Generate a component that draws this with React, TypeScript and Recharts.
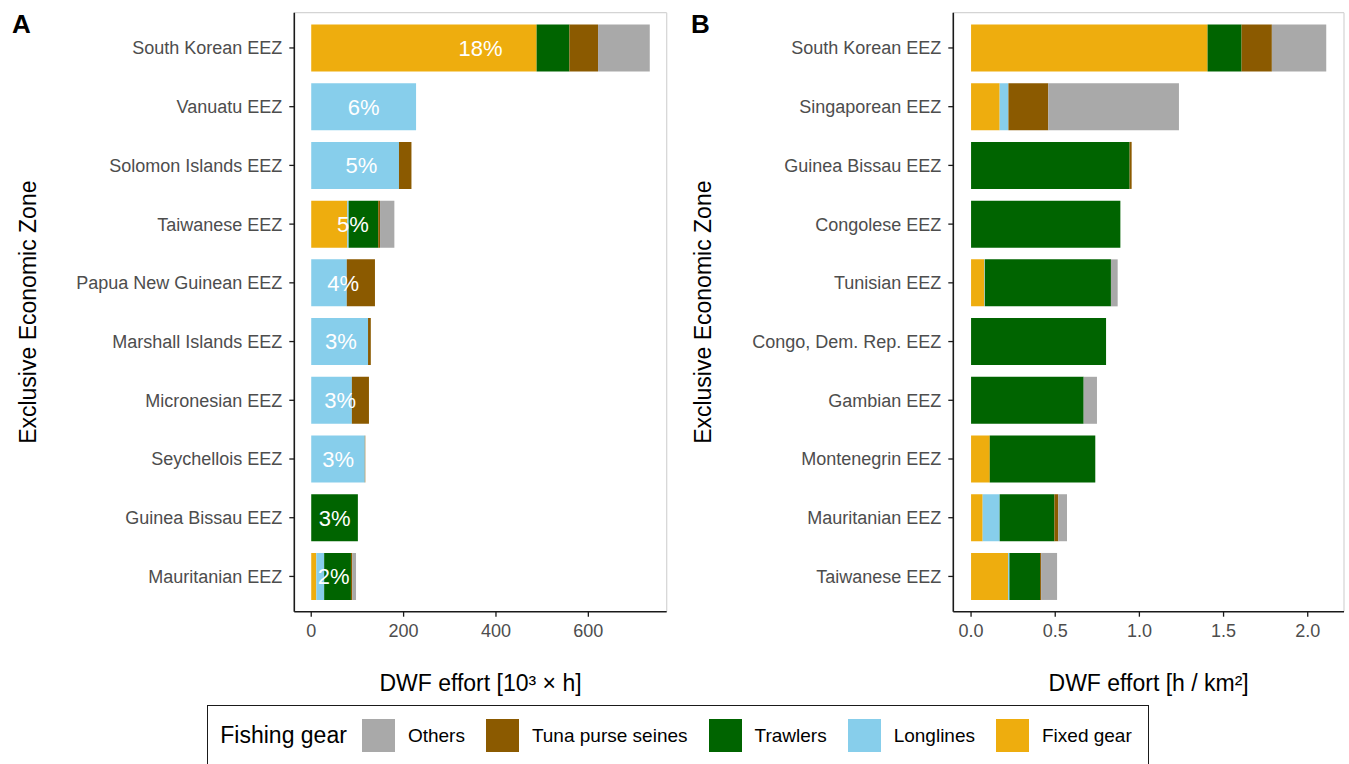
import React from 'react';
import { BarChart, Bar, XAxis, YAxis, LabelList, Label, CartesianGrid } from 'recharts';

// ---- Series definitions (stack order left to right) ----
const gearKeys = ['fixed', 'longlines', 'trawlers', 'tuna', 'others'];
const gearNames = ['Fixed gear', 'Longlines', 'Trawlers', 'Tuna purse seines', 'Others'];
const gearColors = ['#EEAD0E', '#87CEEB', '#006400', '#8B5A00', '#A9A9A9'];
const legendOrder = ['others', 'tuna', 'trawlers', 'longlines', 'fixed'];

// ---- Panel A: DWF effort [10^3 x h] ----
const zonesA = [
  'South Korean EEZ', 'Vanuatu EEZ', 'Solomon Islands EEZ', 'Taiwanese EEZ', 'Papua New Guinean EEZ',
  'Marshall Islands EEZ', 'Micronesian EEZ', 'Seychellois EEZ', 'Guinea Bissau EEZ', 'Mauritanian EEZ',
];
const fixedA = [488, 0, 0, 78, 0, 0, 0, 0, 0, 11];
const longlinesA = [0, 227, 190, 3, 77, 123, 88, 116, 0, 17];
const trawlersA = [71, 0, 0, 64, 0, 0, 0, 0, 101, 58];
const tunaA = [62, 0, 27, 4, 61, 6, 37, 1, 0, 3];
const othersA = [112, 0, 0, 31, 0, 0, 0, 0, 0, 8];
const shareA = ['18%', '6%', '5%', '5%', '4%', '3%', '3%', '3%', '3%', '2%'];
const ticksA = [0, 200, 400, 600];

// ---- Panel B: DWF effort [h / km2] ----
const zonesB = [
  'South Korean EEZ', 'Singaporean EEZ', 'Guinea Bissau EEZ', 'Congolese EEZ', 'Tunisian EEZ',
  'Congo, Dem. Rep. EEZ', 'Gambian EEZ', 'Montenegrin EEZ', 'Mauritanian EEZ', 'Taiwanese EEZ',
];
const fixedB = [1.405, 0.17, 0, 0, 0.079, 0, 0, 0.111, 0.069, 0.22];
const longlinesB = [0, 0.052, 0, 0, 0.003, 0, 0, 0, 0.101, 0.008];
const trawlersB = [0.202, 0, 0.942, 0.887, 0.749, 0.802, 0.669, 0.627, 0.325, 0.182];
const tunaB = [0.18, 0.237, 0.012, 0, 0, 0, 0, 0, 0.023, 0.006];
const othersB = [0.323, 0.776, 0, 0, 0.04, 0, 0.079, 0, 0.052, 0.095];
const ticksB = [0, 0.5, 1.0, 1.5, 2.0];

const FONT = '"Liberation Sans", Arial, Helvetica, sans-serif';

function buildRows(zones: string[], cols: number[][], shares?: string[]) {
  return zones.map((zone, i) => {
    const row: any = { zone };
    let total = 0;
    gearKeys.forEach((k, j) => {
      row[k] = cols[j][i];
      total += cols[j][i];
    });
    row.total = total;
    if (shares) row.share = shares[i];
    return row;
  });
}

const dataA = buildRows(zonesA, [fixedA, longlinesA, trawlersA, tunaA, othersA], shareA);
const dataB = buildRows(zonesB, [fixedB, longlinesB, trawlersB, tunaB, othersB]);

function expandDomain(data: any[]): [number, number] {
  const max = Math.max(...data.map((d) => d.total));
  return [-0.05 * max, 1.05 * max];
}

const AXIS_COLOR = '#1a1a1a';
const BORDER_COLOR = '#D4D4D4';
const TICK_STYLE = { fontSize: 18, fill: '#4D4D4D', fontFamily: FONT };
const Y_PAD = { top: 5.9, bottom: 5.9 };

interface PanelProps {
  data: any[];
  width: number;
  yAxisWidth: number;
  marginRight: number;
  ticks: number[];
  xTitle: string;
  titleOffset: number;
  tickFormatter?: (v: number) => string;
  showShares?: boolean;
}

function Panel({ data, width, yAxisWidth, marginRight, ticks, xTitle, titleOffset, tickFormatter, showShares }: PanelProps) {
  const domain = expandDomain(data);
  return (
    <BarChart
      width={width}
      height={700}
      data={data}
      layout="vertical"
      margin={{ top: 12.7, right: marginRight, bottom: 0, left: 0 }}
      barCategoryGap="10%"
      style={{ fontFamily: FONT }}
    >
      <CartesianGrid
        stroke={BORDER_COLOR}
        strokeWidth={1.2}
        horizontalCoordinatesGenerator={({ offset }: any) => [offset.top]}
        verticalCoordinatesGenerator={({ offset }: any) => [offset.left + offset.width]}
      />
      <XAxis
        type="number"
        domain={domain}
        allowDataOverflow
        ticks={ticks}
        tickFormatter={tickFormatter}
        height={88.3}
        tick={TICK_STYLE}
        tickSize={5}
        tickMargin={8}
        tickLine={{ stroke: AXIS_COLOR, strokeWidth: 1.3 }}
        axisLine={{ stroke: AXIS_COLOR, strokeWidth: 1.6 }}
      >
        <Label value={xTitle} position="insideBottom" offset={9.3} style={{ fontSize: 23, fill: '#000', fontFamily: FONT }} />
      </XAxis>
      <YAxis
        type="category"
        dataKey="zone"
        width={yAxisWidth}
        padding={Y_PAD}
        tick={TICK_STYLE}
        tickSize={5}
        tickMargin={7}
        interval={0}
        tickLine={{ stroke: AXIS_COLOR, strokeWidth: 1.3 }}
        axisLine={{ stroke: AXIS_COLOR, strokeWidth: 1.6 }}
      >
        <Label
          value="Exclusive Economic Zone"
          angle={-90}
          position="insideLeft"
          offset={titleOffset}
          style={{ textAnchor: 'middle', fontSize: 23, fill: '#000', fontFamily: FONT }}
        />
      </YAxis>
      <YAxis
        yAxisId="labels"
        orientation="right"
        type="category"
        dataKey="zone"
        width={0}
        padding={Y_PAD}
        tick={false}
        tickLine={false}
        axisLine={false}
      />
      {gearKeys.map((k, j) => (
        <Bar key={k} dataKey={k} name={gearNames[j]} stackId="gear" fill={gearColors[j]} isAnimationActive={false} />
      ))}
      {showShares && (
        <Bar dataKey="total" yAxisId="labels" fill="none" legendType="none" isAnimationActive={false}>
          <LabelList dataKey="share" position="center" fill="#FFFFFF" fontSize={22} fontFamily={FONT} />
        </Bar>
      )}
    </BarChart>
  );
}

function LegendBox() {
  return (
    <div
      style={{
        position: 'absolute',
        left: 207.3,
        top: 705,
        width: 942,
        height: 80,
        border: '1.5px solid #1a1a1a',
        boxSizing: 'border-box',
        fontFamily: FONT,
        whiteSpace: 'nowrap',
      }}
    >
      <div style={{ position: 'absolute', left: 12, top: 13, height: 33, display: 'flex', alignItems: 'center', whiteSpace: 'nowrap' }}>
        <span style={{ fontSize: 23, color: '#000', marginRight: 15, whiteSpace: 'nowrap' }}>Fishing gear</span>
        {legendOrder.map((k) => {
          const j = gearKeys.indexOf(k);
          return (
            <span key={k} style={{ display: 'flex', alignItems: 'center', marginRight: 21, flexShrink: 0 }}>
              <span style={{ width: 33, height: 33, background: gearColors[j], marginRight: 13, display: 'inline-block', flexShrink: 0 }} />
              <span style={{ fontSize: 19, color: '#000', whiteSpace: 'nowrap' }}>{gearNames[j]}</span>
            </span>
          );
        })}
      </div>
    </div>
  );
}

export default function App() {
  return (
    <div
      style={{
        position: 'absolute',
        left: 0,
        top: 0,
        width: 1349,
        height: 764,
        background: '#FFFFFF',
        overflow: 'hidden',
        fontFamily: FONT,
      }}
    >
      <div style={{ position: 'absolute', left: 0, top: 0 }}>
        <Panel
          data={dataA}
          width={680}
          yAxisWidth={294.3}
          marginRight={13.3}
          ticks={ticksA}
          xTitle="DWF effort [10³ × h]"
          titleOffset={28}
          showShares
        />
      </div>
      <div style={{ position: 'absolute', left: 680, top: 0 }}>
        <Panel
          data={dataB}
          width={669}
          yAxisWidth={273.3}
          marginRight={5}
          ticks={ticksB}
          xTitle="DWF effort [h / km²]"
          titleOffset={23}
          tickFormatter={(v: number) => v.toFixed(1)}
        />
      </div>
      <svg width={1349} height={60} style={{ position: 'absolute', left: 0, top: 0, pointerEvents: 'none' }}>
        <text x={12} y={33} fontSize={26} fontWeight="bold" fontFamily={FONT} fill="#000">A</text>
        <text x={691} y={33} fontSize={26} fontWeight="bold" fontFamily={FONT} fill="#000">B</text>
      </svg>
      <LegendBox />
    </div>
  );
}
